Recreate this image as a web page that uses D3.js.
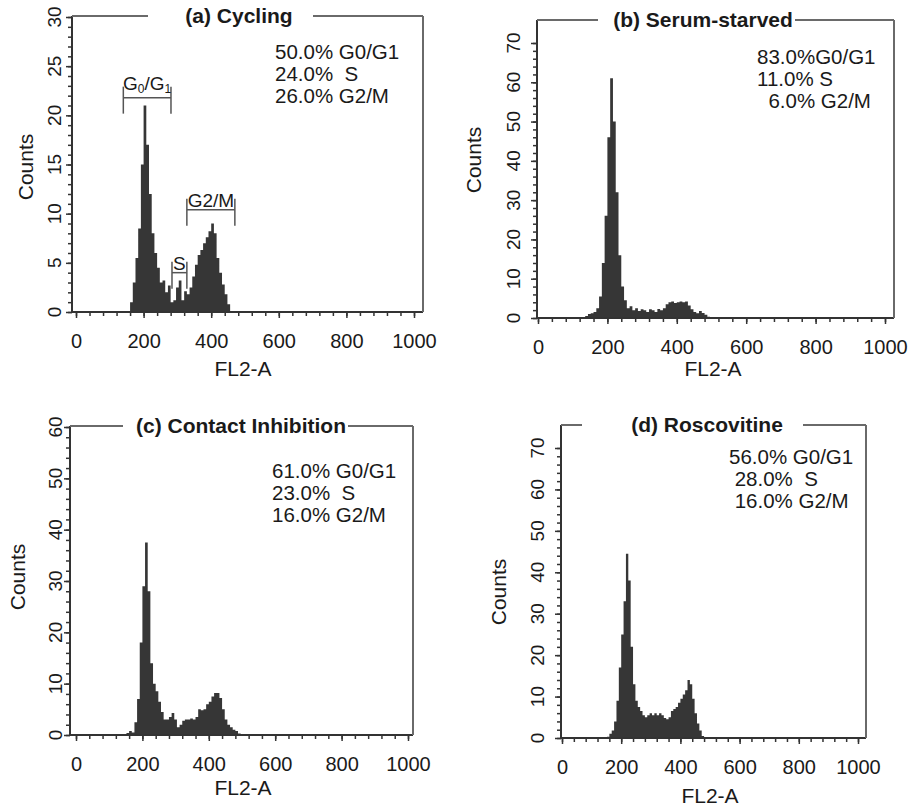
<!DOCTYPE html>
<html>
<head>
<meta charset="utf-8">
<script src="https://cdn.jsdelivr.net/npm/d3@7"></script>
<style>
  body { margin: 0; background: #fff; }
  text { font-family: 'Liberation Sans', Arial, Helvetica, sans-serif; fill: #1a1a1a; }
</style>
</head>
<body>
<svg width="915" height="805"></svg>
<script>
// histogram bins, FL2-A channel width
const binWidth = 8;

// (a) cycling
const cyclingStart = 160;
const cyclingCounts = [1.0, 3.0, 5.5, 8.5, 15, 21, 17, 12, 8, 6, 4.5, 3, 3.2, 2, 2.7, 1, 1.2, 2.5, 3.2, 1.2,
  2.1, 1.8, 2.5, 3.6, 4.8, 5.8, 6.3, 7, 7.6, 8.2, 9, 8, 5.5, 4, 2.8, 1.8, 0.8];

// (b) serum-starved
const starvedStart = 136;
const starvedCounts = [0.5, 1.0, 1.2, 1.5, 2.5, 5.5, 14, 26, 46, 61, 50, 32, 16, 8, 4.5, 2.5, 3, 2, 2.5, 1.8,
  2.2, 2, 1.5, 2.2, 2, 1.5, 2.3, 2, 2.5, 3.5, 4, 4.2, 3.8, 4, 4.2, 4, 4.2, 3.2, 2.2, 1.5, 1.2, 1.8, 1.3, 0.8, 0.3];

// (c) contact inhibition
const contactStart = 152;
const contactCounts = [0.4, 0.8, 0.5, 2.5, 7, 18, 29, 37.5, 28, 14, 10, 8.5, 6.5, 4.5, 3, 3, 3.5, 4.3, 3, 1.5,
  2, 2.8, 3, 3, 3.2, 3, 3.5, 5, 4.8, 5, 6, 6.5, 7.5, 8.2, 8.2, 7.2, 5, 3, 2, 1.5, 1, 0.8, 0.3];

// (d) roscovitine
const roscoStart = 152;
const roscoCounts = [0.3, 1, 1.8, 4, 9, 17, 25, 33, 44.5, 38, 22, 13, 9, 7.5, 6.5, 5.5, 5, 5.5, 6, 5.5,
  6, 5.5, 6, 5.5, 4.8, 4.5, 5, 6.5, 7, 7.5, 8.5, 9.5, 10.5, 11.5, 14, 13, 9.5, 6, 3.5, 1.8, 0.5];

const titles = ['(a) Cycling', '(b) Serum-starved', '(c) Contact Inhibition', '(d) Roscovitine'];
const statsA = ['50.0% G0/G1', '24.0%  S', '26.0% G2/M'];
const statsB = ['83.0%G0/G1', '11.0% S', '  6.0% G2/M'];
const statsC = ['61.0% G0/G1', '23.0%  S', '16.0% G2/M'];
const statsD = ['56.0% G0/G1', ' 28.0%  S', ' 16.0% G2/M'];

const xTicks = [0, 200, 400, 600, 800, 1000];
const yTicks30 = [0, 5, 10, 15, 20, 25, 30];
const yTicks60 = [0, 10, 20, 30, 40, 50, 60];
const yTicks70 = [0, 10, 20, 30, 40, 50, 60, 70];

// gates drawn on panel (a)
const gateNames = ['G0/G1', 'S', 'G2/M'];
const gateFrom = [140, 284, 328];
const gateTo = [281, 328, 470];
const gateLevel = [21.8, 4.0, 10.4];

const svg = d3.select('svg');

const panels = [
  { start: cyclingStart, counts: cyclingCounts, title: titles[0], stats: statsA, yTicks: yTicks30, yMinor: 1, yMax: 30,
    frameL: 72, frameR: 423, frameT: 16, base: 312, x0: 76, x1: 414, yTop: 17,
    titleX: 239, gapL: 148, gapR: 313, statX: 275, statY: 52, ylabX: 25, ylabY: 167, xlabX: 243, xlabY: 368, tickOff: 18 },
  { start: starvedStart, counts: starvedCounts, title: titles[1], stats: statsB, yTicks: yTicks70, yMinor: 2, yMax: 70,
    frameL: 537, frameR: 894, frameT: 20, base: 318, x0: 538, x1: 885, yTop: 43,
    titleX: 703, gapL: 598, gapR: 795, statX: 757, statY: 57, ylabX: 473, ylabY: 160, xlabX: 713, xlabY: 368, tickOff: 24 },
  { start: contactStart, counts: contactCounts, title: titles[2], stats: statsC, yTicks: yTicks60, yMinor: 2, yMax: 60,
    frameL: 70, frameR: 413, frameT: 426, base: 735, x0: 76, x1: 408, yTop: 427,
    titleX: 241, gapL: 123, gapR: 348, statX: 272, statY: 471, ylabX: 17, ylabY: 577, xlabX: 243, xlabY: 787, tickOff: 15 },
  { start: roscoStart, counts: roscoCounts, title: titles[3], stats: statsD, yTicks: yTicks70, yMinor: 2, yMax: 70,
    frameL: 561, frameR: 866, frameT: 425, base: 738, x0: 562, x1: 858, yTop: 448,
    titleX: 707, gapL: 582, gapR: 803, statX: 729, statY: 457, ylabX: 498, ylabY: 592, xlabX: 710, xlabY: 795, tickOff: 24 }
];

panels.forEach((p, i) => {
  const g = svg.append('g');
  const x = d3.scaleLinear().domain([0, 1000]).range([p.x0, p.x1]);
  const y = d3.scaleLinear().domain([0, p.yMax]).range([p.base, p.yTop]);

  // histogram as stepped area
  const bins = p.counts.map((c, k) => [p.start + k * binWidth, c]);
  bins.push([p.start + p.counts.length * binWidth, 0]);
  const area = d3.area()
    .x((d) => x(d[0]))
    .y0(p.base)
    .y1((d) => y(d[1]))
    .curve(d3.curveStepAfter);
  g.append('path')
    .datum(bins)
    .attr('d', area)
    .attr('fill', '#363636');

  // minor + major ticks on x
  g.append('g')
    .attr('transform', `translate(0,${p.base})`)
    .call(d3.axisBottom(x).tickValues(d3.range(0, 1001, 40)).tickSize(4).tickFormat(''))
    .call((a) => a.select('.domain').remove());
  g.append('g')
    .attr('transform', `translate(0,${p.base})`)
    .call(d3.axisBottom(x).tickValues(xTicks).tickSize(6).tickPadding(16).tickFormat(d3.format('d')))
    .call((a) => a.select('.domain').remove())
    .call((a) => a.selectAll('text').attr('font-size', 20).attr('font-family', null).attr('fill', '#1a1a1a'));

  // y ticks, left side
  g.append('g')
    .attr('transform', `translate(${p.frameL},0)`)
    .call(d3.axisLeft(y).tickValues(d3.range(0, p.yMax + 0.01, p.yMinor)).tickSize(4).tickFormat(''))
    .call((a) => a.select('.domain').remove());
  g.append('g')
    .attr('transform', `translate(${p.frameL},0)`)
    .call(d3.axisLeft(y).tickValues(p.yTicks).tickSize(6).tickFormat(''))
    .call((a) => a.select('.domain').remove());
  g.selectAll('.tick line').attr('stroke', '#333').attr('stroke-width', 1.5);

  // rotated y tick labels
  g.selectAll('.ylab')
    .data(p.yTicks)
    .enter()
    .append('text')
    .attr('transform', (d) => `translate(${p.frameL - p.tickOff},${y(d)}) rotate(-90)`)
    .attr('text-anchor', 'middle')
    .attr('dominant-baseline', 'central')
    .attr('font-size', 19)
    .text((d) => d);

  // frame
  g.append('line').attr('x1', p.frameL).attr('x2', p.frameL).attr('y1', p.frameT).attr('y2', p.base)
    .attr('stroke', '#333').attr('stroke-width', 2);
  g.append('line').attr('x1', p.frameL).attr('x2', p.frameR).attr('y1', p.base).attr('y2', p.base)
    .attr('stroke', '#333').attr('stroke-width', 2);
  g.append('line').attr('x1', p.frameR).attr('x2', p.frameR).attr('y1', p.frameT).attr('y2', p.base)
    .attr('stroke', '#6a6a6a').attr('stroke-width', 2);
  g.append('line').attr('x1', p.frameL).attr('x2', p.gapL).attr('y1', p.frameT).attr('y2', p.frameT)
    .attr('stroke', '#6a6a6a').attr('stroke-width', 2);
  g.append('line').attr('x1', p.gapR).attr('x2', p.frameR).attr('y1', p.frameT).attr('y2', p.frameT)
    .attr('stroke', '#6a6a6a').attr('stroke-width', 2);

  // title
  g.append('text')
    .attr('x', p.titleX)
    .attr('y', p.frameT + 7)
    .attr('text-anchor', 'middle')
    .attr('font-size', 21)
    .attr('font-weight', 'bold')
    .text(p.title);

  // phase percentages
  g.selectAll('.stat')
    .data(p.stats)
    .enter()
    .append('text')
    .attr('x', p.statX)
    .attr('y', (d, k) => p.statY + 7 + k * 22)
    .attr('font-size', 20.5)
    .style('white-space', 'pre')
    .text((d) => d);

  // axis titles
  g.append('text')
    .attr('transform', `translate(${p.ylabX},${p.ylabY}) rotate(-90)`)
    .attr('text-anchor', 'middle')
    .attr('dominant-baseline', 'central')
    .attr('font-size', 21)
    .text('Counts');
  g.append('text')
    .attr('x', p.xlabX)
    .attr('y', p.xlabY)
    .attr('text-anchor', 'middle')
    .attr('dominant-baseline', 'central')
    .attr('font-size', 21)
    .text('FL2-A');

  // gate brackets only on the cycling panel
  if (i === 0) {
    gateNames.forEach((name, k) => {
      const gy = y(gateLevel[k]);
      const gx1 = x(gateFrom[k]);
      const gx2 = x(gateTo[k]);
      const gate = g.append('g').attr('stroke', '#555').attr('stroke-width', 1.5);
      gate.append('line').attr('x1', gx1).attr('x2', gx2).attr('y1', gy).attr('y2', gy);
      gate.append('line').attr('x1', gx1).attr('x2', gx1).attr('y1', gy - 11).attr('y2', gy + 16);
      gate.append('line').attr('x1', gx2).attr('x2', gx2).attr('y1', gy - 11).attr('y2', gy + 16);

      const label = g.append('text')
        .attr('x', (gx1 + gx2) / 2)
        .attr('y', name === 'G0/G1' ? gy - 8 : gy - 3)
        .attr('text-anchor', 'middle')
        .attr('font-size', 19);
      if (name === 'G0/G1') {
        label.append('tspan').text('G');
        label.append('tspan').attr('font-size', 12).attr('dy', 3).text('0');
        label.append('tspan').attr('dy', -3).text('/G');
        label.append('tspan').attr('font-size', 12).attr('dy', 3).text('1');
      } else {
        label.text(name);
      }
    });
  }
});
</script>
</body>
</html>
